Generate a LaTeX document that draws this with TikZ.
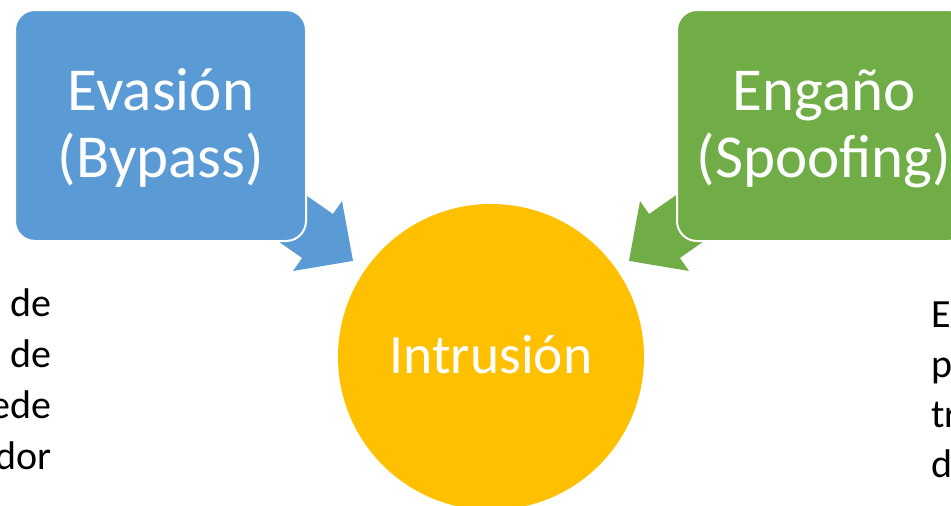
\documentclass[tikz,border=0pt]{standalone}
\usepackage{fontspec}
\setmainfont{Carlito}
\definecolor{boxblue}{HTML}{5B9BD5}
\definecolor{boxgreen}{HTML}{70AD47}
\definecolor{hubgold}{HTML}{FFC000}
\tikzset{
  sourcebox/.style={rectangle, rounded corners=20pt, draw=white, line width=2pt,
    minimum width=291pt, minimum height=231pt, inner sep=0pt},
  boxlabel/.style={text=white, inner sep=0pt, align=center,
    font=\fontsize{61}{67}\selectfont},
  hub/.style={circle, fill=hubgold, minimum size=306pt, inner sep=0pt},
  hublabel/.style={text=white, inner sep=0pt, font=\fontsize{55.5}{66}\selectfont},
  sidetext/.style={text=black, inner sep=0pt}
}
\begin{document}
\begin{tikzpicture}[x=1pt,y=-1pt]
  \useasboundingbox (0,0) rectangle (951,506);
  \clip (0,0) rectangle (951,506);

  % central circle
  \node[hub] (hub) at (491,357) {};
  \node[hublabel, anchor=base] (hubtext) at (491,373) {Intrusión};

  % block arrows pointing into the circle (drawn beneath the boxes)
  \fill[boxblue] (251,156.7) -- (332.9,214) -- (342,201) -- (353,260.9)
    -- (293,271) -- (302.1,258) -- (220.2,200.7) -- cycle;
  \fill[boxgreen] (731,156.7) -- (649.1,214) -- (640,201) -- (629,260.9)
    -- (689,271) -- (679.9,258) -- (761.8,200.7) -- cycle;

  % source boxes and their labels (base anchor = last line's baseline)
  \node[sourcebox, fill=boxblue] (bypass) at (160.5,125.5) {};
  \node[sourcebox, fill=boxgreen] (spoof) at (822.5,125.5) {};
  \node[boxlabel, anchor=base] (bypasstext) at (161,177) {Evasión\\(Bypass)};
  \node[boxlabel, anchor=base] (spooftext) at (824,177) {Engaño\\(Spoofing)};

  % side descriptions
  \node[sidetext, align=right, anchor=base east, font=\fontsize{40}{51}\selectfont]
    (lefttext) at (52,469) {de\\de\\ede\\dor};
  \node[sidetext, align=left, anchor=base west, font=\fontsize{40}{50}\selectfont]
    (righttext) at (931,477) {E\\p\\tr\\d};
\end{tikzpicture}
\end{document}
